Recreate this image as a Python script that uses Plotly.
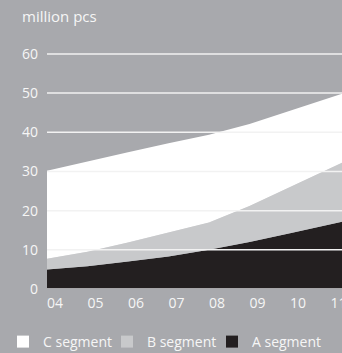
import plotly.graph_objects as go

years = ["04", "05", "06", "07", "08", "09", "10", "11", "12"]
seg_a = [5.0, 5.8, 7.0, 8.3, 10.0, 12.0, 14.2, 16.5, 18.8]
seg_b = [2.7, 3.7, 4.9, 6.1, 7.0, 9.2, 11.9, 14.4, 16.9]
seg_c = [22.5, 23.1, 23.0, 22.8, 22.4, 20.9, 19.4, 18.0, 16.6]
y_ticks = [0, 10, 20, 30, 40, 50, 60]

BG = "#a8a9ad"
COL_A = "#231f20"
COL_B = "#c8c9cb"
COL_C = "#ffffff"
TXT = "#f6f6f6"
FONT = "Open Sans"

W, H = 342, 353
ML, MR, MT, MB = 47, 0, 50, 64
PW, PH = W - ML - MR, H - MT - MB

xs = list(range(len(years)))

fig = go.Figure()
for name, vals, col in [("A segment", seg_a, COL_A), ("B segment", seg_b, COL_B), ("C segment", seg_c, COL_C)]:
    fig.add_trace(go.Scatter(x=xs, y=vals, mode="lines", stackgroup="s", line=dict(width=0, color=col),
                             fillcolor=col, showlegend=False, hoverinfo="skip"))

legend_items = [("C segment", COL_C, "legend", 3), ("B segment", COL_B, "legend2", 107), ("A segment", COL_A, "legend3", 212)]
legend_layouts = {}
for name, col, lg, px in legend_items:
    fig.add_trace(go.Scatter(x=[None], y=[None], mode="markers", name=name, legend=lg,
                             marker=dict(symbol="square", size=12, color=col, line=dict(width=0))))
    legend_layouts[lg] = dict(orientation="h", xref="container", yref="container", x=px / W, y=1 - 342 / H,
                              xanchor="left", yanchor="middle", font=dict(size=14, color=TXT),
                              bgcolor="rgba(0,0,0,0)", itemwidth=30)

shapes = []
for v in y_ticks[1:]:
    shapes.append(dict(type="line", xref="paper", x0=0, x1=1, yref="y", y0=v, y1=v,
                       line=dict(color="#f2f2f2", width=1.5), layer="above"))
shapes.append(dict(type="line", xref="paper", x0=0, x1=1, yref="y", y0=0, y1=0,
                   line=dict(color="#d4d4d6", width=1.5), layer="above"))

fig.update_layout(
    width=W, height=H,
    margin=dict(l=ML, r=MR, t=MT, b=MB, autoexpand=False),
    paper_bgcolor=BG, plot_bgcolor=BG,
    font=dict(family=FONT, color=TXT, size=14),
    shapes=shapes,
    showlegend=True,
    xaxis=dict(range=[0, 7.284], tickmode="array", tickvals=[i + 0.2 for i in xs], ticktext=years,
               showgrid=False, zeroline=False, showline=False, ticks="", tickfont=dict(size=14, color=TXT),
               ticklabelstandoff=4, ticklabeloverflow="allow"),
    yaxis=dict(range=[0, 61], tickmode="array", tickvals=y_ticks, showgrid=False, zeroline=False,
               showline=False, ticks="", tickfont=dict(size=14, color=TXT), ticklabelstandoff=8),
    annotations=[dict(text="million pcs", xref="paper", yref="paper", x=(20 - ML) / PW, y=(H - MB - 16) / PH,
                      xanchor="left", yanchor="middle", showarrow=False, font=dict(size=15, color=TXT))],
    **legend_layouts,
)

fig.write_html("out.html")
